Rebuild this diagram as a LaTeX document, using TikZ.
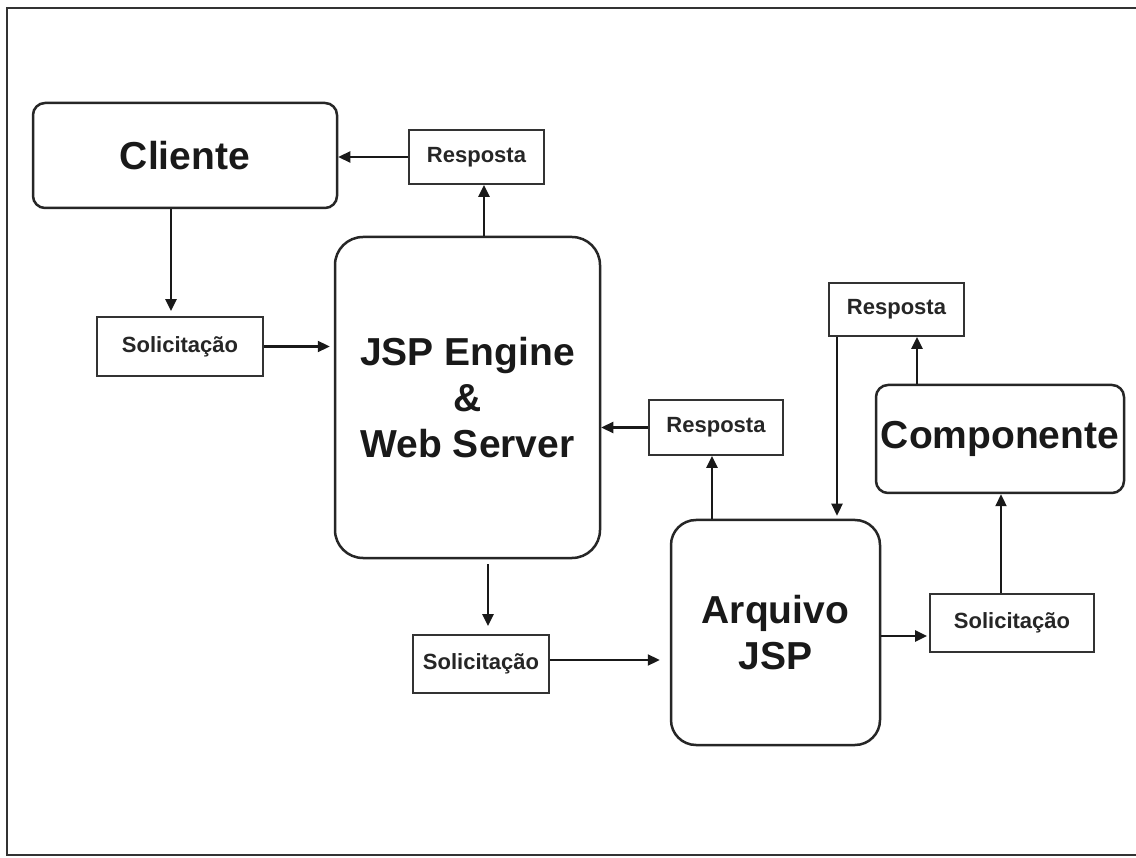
\documentclass[tikz,border=0pt]{standalone}
\usepackage{fontspec}
\setmainfont{Liberation Sans}
\usetikzlibrary{arrows.meta,calc}
\begin{document}
\begin{tikzpicture}[x=1pt,y=-1pt,
  bigbox/.style={draw=black!85,line width=2.5pt,align=center,inner sep=0pt,font=\fontsize{39}{46}\selectfont\bfseries,text=black!90},
  smallbox/.style={draw=black!80,line width=1.8pt,inner sep=0pt,font=\fontsize{22}{24}\selectfont\bfseries,text=black!85},
  arr/.style={draw=black!90,line width=2.3pt,-{Triangle[length=12pt,width=11pt]}}]
\useasboundingbox (0,0) rectangle (1136,858);
\fill[white] (0,0) rectangle (1136,858);
\draw[line width=2.8pt,black!80] (1140,8) -- (7,8) -- (7,855) -- (1140,855);

\node[bigbox,rounded corners=12pt,minimum width=304pt,minimum height=105pt] (cliente) at (185,155.5) {Cliente};
\node[smallbox,minimum width=135pt,minimum height=54pt] (r1) at (476.5,157) {Resposta};
\node[bigbox,rounded corners=28pt,minimum width=265pt,minimum height=321pt] (jsp) at (467.5,397.5) {JSP Engine\\\&\\Web Server};
\node[smallbox,minimum width=166pt,minimum height=59pt] (s1) at (180,346.5) {Solicitação};
\node[smallbox,minimum width=134pt,minimum height=55pt] (r2) at (716,427.5) {Resposta};
\node[bigbox,rounded corners=25pt,minimum width=209pt,minimum height=225pt] (arq) at (775.5,632.5) {Arquivo\\JSP};
\node[smallbox,minimum width=136pt,minimum height=58pt] (s2) at (481,664) {Solicitação};
\node[smallbox,minimum width=135pt,minimum height=53pt] (r3) at (896.5,309.5) {Resposta};
\node[bigbox,rounded corners=12pt,minimum width=248pt,minimum height=108pt] (comp) at (1000,439) {Componente};
\node[smallbox,minimum width=164pt,minimum height=58pt] (s3) at (1012,623) {Solicitação};

\draw[arr] (r1.west) -- (r1.west -| cliente.east);
\draw[arr] ([xshift=7.5pt]r1.south |- jsp.north) -- ([xshift=7.5pt]r1.south);
\draw[arr] ([xshift=-9pt]s1.north |- cliente.south) -- ([xshift=-9pt,yshift=5pt]s1.north);
\draw[arr] (s1.east) -- ([xshift=-4pt]s1.east -| jsp.west);
\draw[arr] (r2.west) -- (r2.west -| jsp.east);
\draw[arr] ([xshift=-4pt]r2.south |- arq.north) -- ([xshift=-4pt]r2.south);
\draw[arr] ([xshift=7pt,yshift=-5pt]s2.north |- jsp.south) -- ([xshift=7pt,yshift=8pt]s2.north);
\draw[arr] ([yshift=4pt]s2.east) -- ([yshift=4pt,xshift=-10pt]s2.east -| arq.west);
\draw[arr] ([xshift=-59.5pt]r3.south) -- ([xshift=-59.5pt,yshift=3pt]r3.south |- arq.north);
\draw[arr] ([xshift=20.5pt]r3.south |- comp.north) -- ([xshift=20.5pt]r3.south);
\draw[arr] ([xshift=-11pt]s3.north) -- ([xshift=-11pt]s3.north |- comp.south);
\draw[arr] ([yshift=-13pt]s3.west -| arq.east) -- ([yshift=-13pt,xshift=-2pt]s3.west);
\end{tikzpicture}
\end{document}
